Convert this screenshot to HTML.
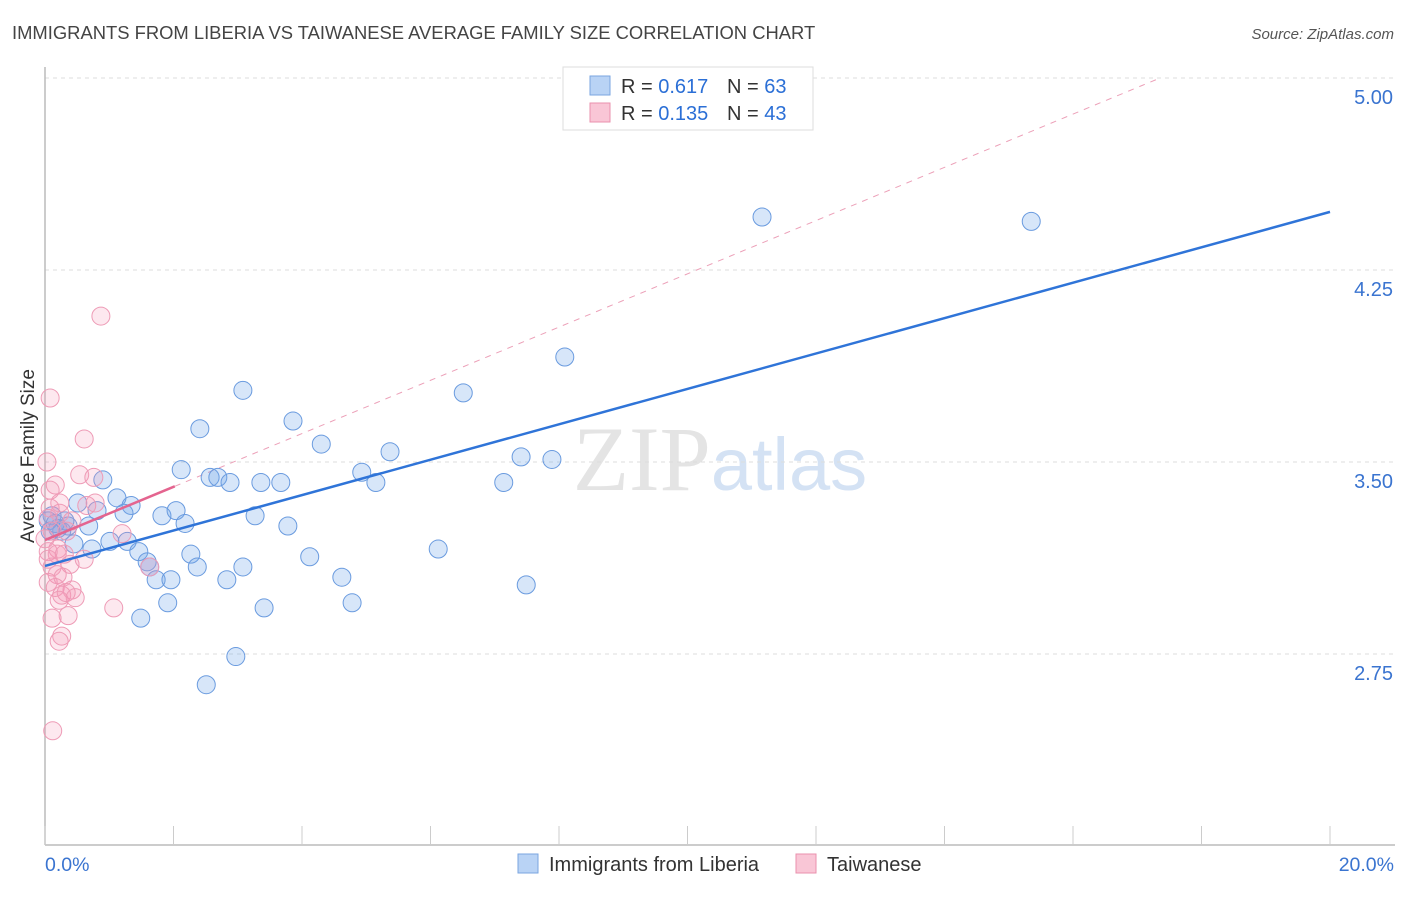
<!DOCTYPE html>
<html><head><meta charset="utf-8"><style>
body{margin:0;background:#fff;font-family:"Liberation Sans",sans-serif}
</style></head><body>
<svg id="chart" width="1406" height="892" xmlns="http://www.w3.org/2000/svg" font-family="Liberation Sans, sans-serif">
<text x="12" y="39" font-size="18.4" fill="#444">IMMIGRANTS FROM LIBERIA VS TAIWANESE AVERAGE FAMILY SIZE CORRELATION CHART</text>
<text x="1394" y="39" font-size="15" fill="#555" text-anchor="end" font-style="italic">Source: ZipAtlas.com</text>
<text transform="translate(34,456) rotate(-90)" font-size="19" fill="#333" text-anchor="middle">Average Family Size</text>
<text x="720" y="490" font-size="92" fill="#e4e4e4" text-anchor="middle" font-family="Liberation Serif, serif">ZIP<tspan fill="#d4e2f4" font-family="Liberation Sans, sans-serif" font-size="74">atlas</tspan></text>
<g id="grid"></g><g id="axes"></g><g id="lines"></g><g id="pts"></g>
<g>
<rect x="563" y="67" width="250" height="63" fill="#fff" stroke="#ddd"/>
<rect x="590" y="76" width="20" height="19" fill="#b9d3f5" stroke="#7aa6e0"/>
<text x="621" y="93" font-size="20" fill="#333">R = <tspan fill="#2b6fd6">0.617</tspan></text>
<text x="727" y="93" font-size="20" fill="#333">N = <tspan fill="#2b6fd6">63</tspan></text>
<rect x="590" y="103" width="20" height="19" fill="#f9c6d6" stroke="#ea90ad"/>
<text x="621" y="120" font-size="20" fill="#333">R = <tspan fill="#2b6fd6">0.135</tspan></text>
<text x="727" y="120" font-size="20" fill="#333">N = <tspan fill="#2b6fd6">43</tspan></text>
</g>
<g>
<rect x="518" y="854" width="20" height="19" fill="#b9d3f5" stroke="#7aa6e0"/>
<text x="549" y="871" font-size="20" fill="#333">Immigrants from Liberia</text>
<rect x="796" y="854" width="20" height="19" fill="#f9c6d6" stroke="#ea90ad"/>
<text x="827" y="871" font-size="20" fill="#333">Taiwanese</text>
</g>
</svg>
<script>
const yTicks=[5.00,4.25,3.50,2.75];
const xTickLabels=["0.0%","20.0%"];
const blueX=[11.16,15.35,8.09,3.08,6.51,2.41,3.86,4.30,5.37,7.41,7.89,2.12,4.93,2.57,2.69,2.88,3.36,3.67,5.15,7.14,0.90,0.51,1.12,1.34,0.81,1.23,1.82,2.04,2.18,3.27,3.78,0.36,0.68,0.20,0.11,0.26,0.05,0.45,0.73,1.01,1.28,1.46,2.27,2.37,1.59,1.63,4.12,3.08,6.12,1.73,1.96,2.83,4.62,7.49,1.91,4.78,3.41,1.49,2.97,2.51,0.16,0.31,0.08];
const blueY=[4.457,4.44,3.91,3.78,3.77,3.63,3.66,3.57,3.54,3.52,3.51,3.47,3.46,3.44,3.44,3.42,3.42,3.42,3.42,3.42,3.43,3.34,3.36,3.33,3.31,3.30,3.29,3.31,3.26,3.29,3.25,3.25,3.25,3.24,3.29,3.23,3.27,3.18,3.16,3.19,3.19,3.15,3.14,3.09,3.11,3.09,3.13,3.09,3.16,3.04,3.04,3.04,3.05,3.02,2.95,2.95,2.93,2.89,2.74,2.63,3.26,3.27,3.23];
const pinkX=[0.87,0.08,0.61,0.03,0.54,0.76,0.16,0.08,0.65,0.23,0.05,0.42,0.34,0.11,0.20,0.30,0.05,0.39,0.11,0.19,0.05,0.28,0.42,0.16,0.26,0.22,0.33,1.07,0.36,0.11,0.26,0.22,0.12,1.63,1.20,0.78,0.61,0.00,0.08,0.23,0.47,0.05,0.19];
const pinkY=[4.07,3.75,3.59,3.50,3.45,3.44,3.41,3.39,3.33,3.30,3.28,3.27,3.23,3.23,3.16,3.14,3.15,3.10,3.09,3.06,3.03,3.05,3.00,3.01,2.98,2.96,2.99,2.93,2.90,2.89,2.82,2.80,2.45,3.09,3.22,3.34,3.12,3.20,3.32,3.34,2.97,3.12,3.14];
const blueTrend=[3.094,4.477]; // y at x=0 and x=20
const pinkTrend=[3.195,0.104]; // intercept, slope
const pinkSolidEnd=2.02;
const NS="http://www.w3.org/2000/svg";
const X0=45,X1=1330,YT=78,PPU=256;
const sx=v=>X0+(v/20)*(X1-X0);
const sy=v=>YT+(5-v)*PPU;
function mk(tag,attrs,parent){const e=document.createElementNS(NS,tag);for(const k in attrs)e.setAttribute(k,attrs[k]);document.getElementById(parent).appendChild(e);return e;}
yTicks.forEach((t,i)=>{
 const g=mk('line',{x1:X0,x2:1395,y1:sy(t),y2:sy(t),stroke:'#ddd','stroke-dasharray':'4,4'},'grid');
 
 
 const tx=mk('text',{x:1393,y:sy(t)+26,'font-size':20,fill:'#3a74d0','text-anchor':'end'},'grid');
 tx.textContent=t.toFixed(2);
 
 
});
const ax=mk('line',{x1:X0,x2:X0,y1:67,y2:845,stroke:'#bbb','stroke-width':1.5},'axes');


const bx=mk('line',{x1:X0,x2:1395,y1:845,y2:845,stroke:'#bbb','stroke-width':1.5},'axes');


for(let i=0;i<=10;i++){const t=mk('line',{x1:sx(i*2),x2:sx(i*2),y1:826,y2:845,stroke:'#ccc'},'axes');
 
 }
xTickLabels.forEach((l,i)=>{const t=mk('text',{x:i?1394:45,y:871,'font-size':19.5,fill:'#3a74d0','text-anchor':i?'end':'start'},'axes');t.textContent=l;
 
 });
const xEnd=(5-pinkTrend[0])/pinkTrend[1];
const pd=mk('line',{x1:sx(pinkSolidEnd),y1:sy(pinkTrend[0]+pinkTrend[1]*pinkSolidEnd),x2:sx(xEnd),y2:sy(5),stroke:'#eca0b8','stroke-dasharray':'6,6','stroke-width':1},'lines');


blueX.forEach((x,i)=>{const c=mk('circle',{cx:sx(x),cy:sy(blueY[i]),r:9,fill:'rgba(110,165,235,0.28)',stroke:'#6a9bdf','stroke-width':1},'pts');
 
 });
pinkX.forEach((x,i)=>{const c=mk('circle',{cx:sx(x),cy:sy(pinkY[i]),r:9,fill:'rgba(245,150,180,0.22)',stroke:'#ee9bb6','stroke-width':1},'pts');
 
 });
const bl=mk('line',{x1:sx(0),y1:sy(blueTrend[0]),x2:sx(20),y2:sy(blueTrend[1]),stroke:'#2f74d8','stroke-width':2.5},'pts');


const pl=mk('line',{x1:sx(0),y1:sy(pinkTrend[0]),x2:sx(pinkSolidEnd),y2:sy(pinkTrend[0]+pinkTrend[1]*pinkSolidEnd),stroke:'#e4648f','stroke-width':2.5},'pts');


</script>
</body></html>
